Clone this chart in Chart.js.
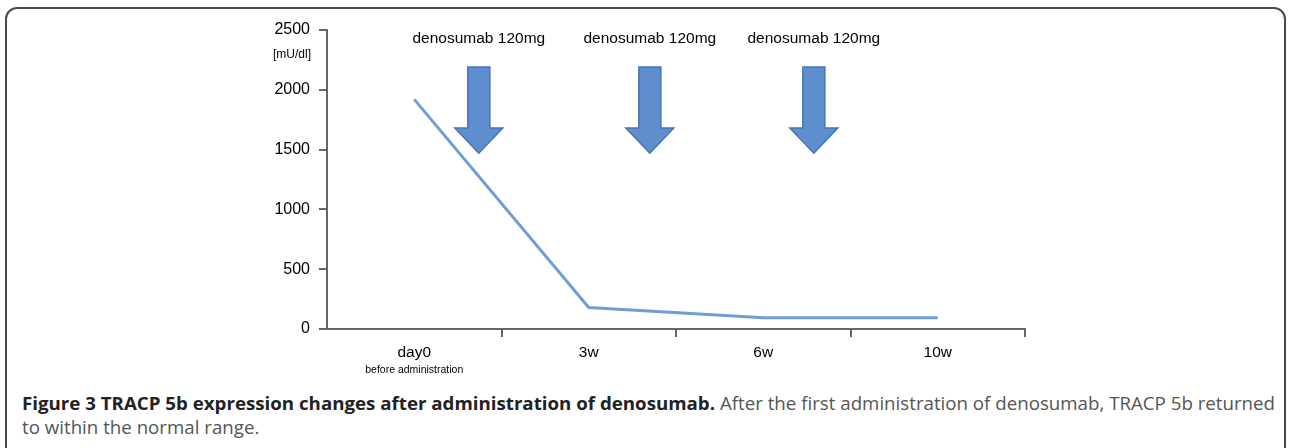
<!DOCTYPE html>
<html>
<head>
<meta charset="utf-8">
<script src="https://cdn.jsdelivr.net/npm/chart.js@4/dist/chart.umd.min.js"></script>
<style>
  html, body { margin: 0; padding: 0; background: #fff; width: 1289px; height: 448px; overflow: hidden; }
  #frame { position: absolute; left: 5px; top: 7px; width: 1281px; height: 470px; border: 2px solid #4a4a4a; border-radius: 12px; box-sizing: border-box; }
  #wrap { position: absolute; left: 0; top: 0; width: 1289px; height: 390px; }
  #caption { position: absolute; left: 22px; top: 391px; font-family: "Open Sans", sans-serif; font-size: 17.5px; line-height: 24px; color: #555; white-space: nowrap; transform-origin: 0 0; }
  #caption b { color: #222; font-weight: 700; }
</style>
</head>
<body>
<div id="frame"></div>
<div id="wrap"><canvas id="c" width="1289" height="390"></canvas></div>
<div id="caption"><span id="line1"><b>Figure 3 TRACP 5b expression changes after administration of denosumab.</b> After the first administration of denosumab, TRACP 5b returned</span><br><span>to within the normal range.</span></div>
<script>
// ---- data ----
const categories = ['day0', '3w', '6w', '10w'];
const categorySubLabels = ['before administration', '', '', ''];
const tracpValues = [1920, 180, 95, 95];
const yTickValues = [0, 500, 1000, 1500, 2000, 2500];
const unitLabel = '[mU/dl]';
const doseLabels = ['denosumab 120mg', 'denosumab 120mg', 'denosumab 120mg'];

// ---- annotation placement (in axis units) ----
const doseArrowX = [0.37, 1.35, 2.29];
const arrowGeom = { top: 2190, headBase: 1680, tip: 1470, labelY: 2430, shaftHalf: 11, headHalf: 24 };

const FONT = '"Liberation Sans", Arial, sans-serif';

const annotPlugin = {
  id: 'annot',
  afterDatasetsDraw(chart) {
    const ctx = chart.ctx, xs = chart.scales.x, ys = chart.scales.y;
    ctx.save();
    doseArrowX.forEach((xv, i) => {
      const cx = xs.getPixelForValue(xv);
      const yT = ys.getPixelForValue(arrowGeom.top);
      const yH = ys.getPixelForValue(arrowGeom.headBase);
      const yP = ys.getPixelForValue(arrowGeom.tip);
      const s = arrowGeom.shaftHalf, h = arrowGeom.headHalf;
      ctx.beginPath();
      ctx.moveTo(cx - s, yT);
      ctx.lineTo(cx + s, yT);
      ctx.lineTo(cx + s, yH);
      ctx.lineTo(cx + h, yH);
      ctx.lineTo(cx, yP);
      ctx.lineTo(cx - h, yH);
      ctx.lineTo(cx - s, yH);
      ctx.closePath();
      ctx.fillStyle = '#5e8ecd';
      ctx.fill();
      ctx.lineWidth = 1.5;
      ctx.strokeStyle = '#4876b0';
      ctx.stroke();
      ctx.fillStyle = '#000';
      ctx.font = '15.5px ' + FONT;
      ctx.textAlign = 'center';
      ctx.textBaseline = 'middle';
      ctx.fillText(doseLabels[i], cx, ys.getPixelForValue(arrowGeom.labelY));
    });
    // unit label
    ctx.font = '12px ' + FONT;
    ctx.fillStyle = '#000';
    ctx.textAlign = 'center';
    ctx.textBaseline = 'middle';
    ctx.fillText(unitLabel, ys.right - 35, ys.getPixelForValue(2290));
    // sub labels under categories
    ctx.font = '10.5px ' + FONT;
    categorySubLabels.forEach((t, i) => {
      if (!t) return;
      ctx.fillText(t, xs.getPixelForValue(i), xs.top + 41);
    });
    ctx.restore();
  }
};

new Chart(document.getElementById('c'), {
  type: 'line',
  data: {
    labels: categories,
    datasets: [{
      data: tracpValues,
      borderColor: '#6e9dd8',
      borderWidth: 3,
      pointRadius: 0,
      tension: 0,
      fill: false
    }]
  },
  options: {
    responsive: false,
    animation: false,
    layout: { padding: { top: 30, right: 264, left: 0, bottom: 0 } },
    plugins: { legend: { display: false }, tooltip: { enabled: false } },
    scales: {
      x: {
        offset: true,
        afterFit: s => { s.height = 61; },
        grid: {
          offset: true,
          drawOnChartArea: false,
          drawTicks: true,
          tickLength: 8,
          lineWidth: 2,
          color: (c) => (c.index === 0 ? 'rgba(0,0,0,0)' : '#666')
        },
        border: { color: '#666', width: 2 },
        ticks: { color: '#000', font: { family: FONT, size: 15.5 }, padding: 6, maxRotation: 0 }
      },
      y: {
        min: 0,
        max: 2500,
        afterFit: s => { s.width = 327; },
        afterBuildTicks: s => { s.ticks = yTickValues.map(v => ({ value: v })); },
        grid: { drawOnChartArea: false, tickLength: 8, lineWidth: 2, color: '#666' },
        border: { color: '#666', width: 2 },
        ticks: { color: '#000', font: { family: FONT, size: 16 }, padding: 9, callback: (v) => String(v) }
      }
    }
  },
  plugins: [annotPlugin]
});

// fit caption first line to reference width
const l1 = document.getElementById('line1');
const w = l1.getBoundingClientRect().width;
const cap = document.getElementById('caption');
cap.style.transform = 'scaleX(' + (1253 / w) + ')';
</script>
</body>
</html>
